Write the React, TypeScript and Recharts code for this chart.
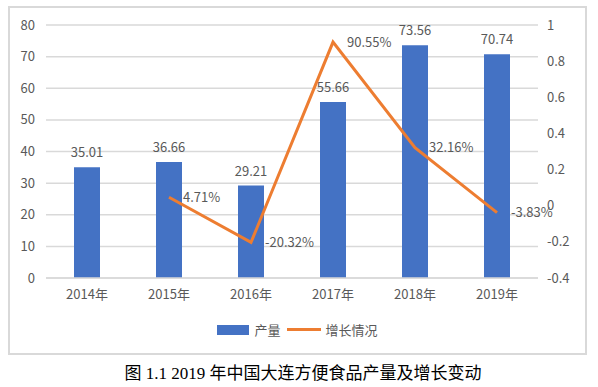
import { ComposedChart, Bar, Line, XAxis, YAxis, CartesianGrid, Legend, LabelList } from 'recharts';

const years = ['2014年', '2015年', '2016年', '2017年', '2018年', '2019年'];
const output = [35.01, 36.66, 29.21, 55.66, 73.56, 70.74];
const growth = [null, 0.0471, -0.2032, 0.9055, 0.3216, -0.0383];
const leftTicks = [0, 10, 20, 30, 40, 50, 60, 70, 80];
const rightTicks = [-0.4, -0.2, 0, 0.2, 0.4, 0.6, 0.8, 1];

const data = years.map((year, i) => ({ year, output: output[i], growth: growth[i] }));

const FONT = '"Noto Sans CJK SC", "Noto Sans", sans-serif';
const TEXT = '#595959';
const GRID = '#d9d9d9';

const pct = (v: any) => (v == null ? '' : (v * 100).toFixed(2) + '%');

const ChartLegend = () => (
    <div style={{ display: 'flex', justifyContent: 'center', alignItems: 'center', height: '100%', fontFamily: FONT, fontSize: 13, color: TEXT }}>
        <span style={{ display: 'inline-block', width: 32, height: 10, background: '#4472C4', marginRight: 5 }} />
        <span style={{ marginRight: 6 }}>产量</span>
        <span style={{ display: 'inline-block', width: 34, height: 3, background: '#ED7D31', marginRight: 5 }} />
        <span>增长情况</span>
    </div>
);

export default function App() {
    return (
        <div style={{ position: 'absolute', left: 0, top: 0, width: 598, height: 387, background: '#fff' }}>
            {/* chart frame */}
            <div style={{ position: 'absolute', left: 8, top: 6, width: 579, height: 349, border: `2px solid ${GRID}`, boxSizing: 'border-box' }}>
                <ComposedChart width={575} height={345} data={data} margin={{ top: 17, right: 0, left: 0, bottom: 2 }}>
                    <CartesianGrid vertical={false} stroke={GRID} strokeWidth={1.5} yAxisId="left" />
                    <XAxis dataKey="year" axisLine={{ stroke: GRID, strokeWidth: 1.5 }} tickLine={false} tickSize={0} tickMargin={12}
                        tick={{ fill: TEXT, fontSize: 13, fontFamily: FONT }} height={30} />
                    <YAxis yAxisId="left" domain={[0, 80]} ticks={leftTicks} axisLine={false} tickLine={false} tickSize={0} tickMargin={11}
                        width={36} tick={{ fill: TEXT, fontSize: 13, fontFamily: FONT }} />
                    <YAxis yAxisId="right" orientation="right" domain={[-0.4, 1]} ticks={rightTicks} axisLine={false} tickLine={false}
                        tickSize={0} tickMargin={9} width={47} tick={{ fill: TEXT, fontSize: 13, fontFamily: FONT }} />
                    <Legend verticalAlign="bottom" height={43} content={() => <ChartLegend />} />
                    <Bar yAxisId="left" dataKey="output" name="产量" fill="#4472C4" barSize={26} isAnimationActive={false}>
                        <LabelList dataKey="output" position="top" offset={10} fill={TEXT} fontSize={13} fontFamily={FONT} />
                    </Bar>
                    <Line yAxisId="right" dataKey="growth" name="增长情况" stroke="#ED7D31" strokeWidth={3} dot={false} isAnimationActive={false}>
                        <LabelList dataKey="growth" position="right" offset={14} fill={TEXT} fontSize={13} fontFamily={FONT} formatter={pct} />
                    </Line>
                </ComposedChart>
            </div>
            {/* caption */}
            <div style={{ position: 'absolute', left: 4, top: 364, width: 598, textAlign: 'center', lineHeight: '20px',
                fontFamily: '"Liberation Serif", "Noto Sans CJK SC", serif', fontSize: 17, color: '#000' }}>
                图 1.1 2019 年中国大连方便食品产量及增长变动
            </div>
        </div>
    );
}
